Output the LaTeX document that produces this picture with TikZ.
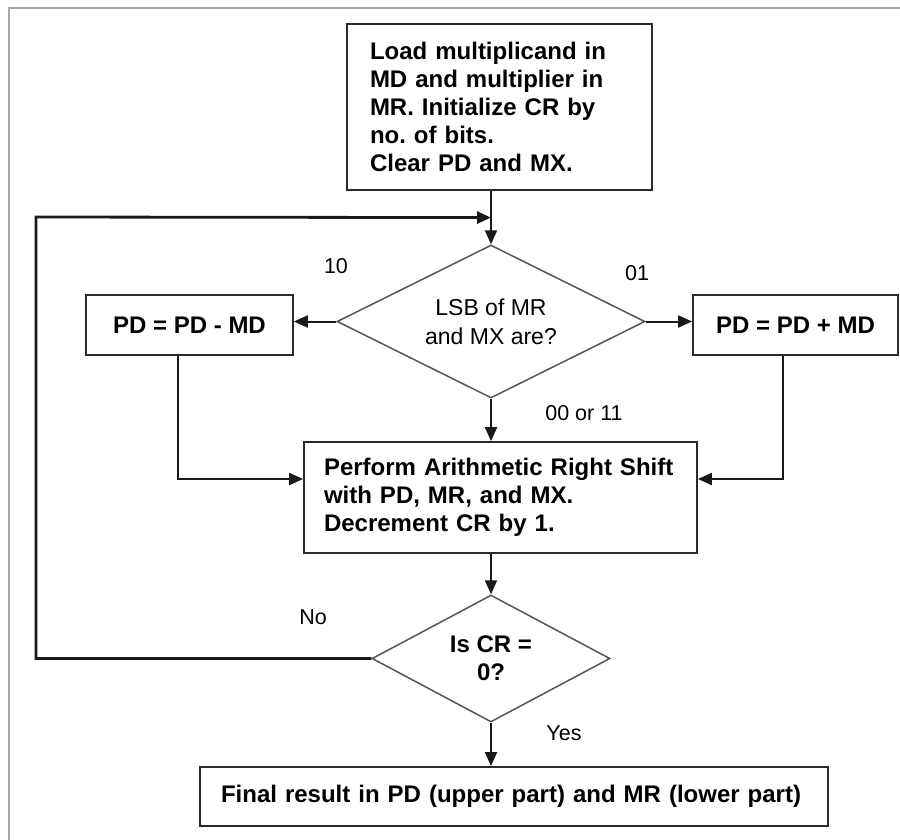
\documentclass[tikz,border=0pt]{standalone}
\usepackage{fontspec}
\setmainfont{Liberation Sans}
\usetikzlibrary{arrows.meta,calc,positioning,shapes.geometric}
\definecolor{FlowInk}{HTML}{2A2A2A}
\definecolor{FlowEdge}{HTML}{555555}
\definecolor{FrameGray}{HTML}{A8A8A8}
\frenchspacing

\begin{document}
\begin{tikzpicture}[x=1pt,y=-1pt,
    font=\fontsize{24}{28}\selectfont\bfseries,
    stepbox/.style={draw=FlowInk, line width=1.8pt, fill=white, inner sep=0pt},
    decision/.style={diamond, aspect=2, draw=FlowEdge, line width=1.5pt, inner sep=0pt, align=center},
    flow/.style={draw=black!90, line width=2pt, -{Triangle[length=14pt,width=12pt]}},
    branch/.style={font=\fontsize{21.5}{26}\selectfont}]
  \useasboundingbox (0,0) rectangle (900,839);
  % outer frame
  \draw[FrameGray, line width=2pt] (9,845) -- (9,8) -- (905,8);

  % steps and decisions
  \node[stepbox, minimum width=305pt, minimum height=166pt, text width=259pt, align=left] (init) at (499.5,107)
    {Load multiplicand in\\MD and multiplier in\\MR. Initialize CR by\\no. of bits.\\Clear PD and MX.};
  \node[decision, minimum width=308pt, minimum height=153pt, font=\fontsize{23}{29}\selectfont] (lsb) at (491,321.5)
    {LSB of MR\\and MX are?};
  \node[stepbox, minimum width=207pt, minimum height=60pt] (sub) at (189.5,325) {PD = PD - MD};
  \node[stepbox, minimum width=205pt, minimum height=60pt] (add) at (795.5,325) {PD = PD + MD};
  \node[stepbox, minimum width=393pt, minimum height=111pt, text width=353pt, align=left] (shift) at (500.5,497.5)
    {Perform Arithmetic Right Shift\\with PD, MR, and MX.\\Decrement CR by 1.};
  \node[decision, minimum width=238pt, minimum height=127pt] (done) at (491,658.5) {Is CR =\\0?};
  \node[stepbox, minimum width=628pt, minimum height=59pt, text width=586pt, align=left] (result) at (514,796.5)
    {Final result in PD (upper part) and MR (lower part)};

  % branch labels
  \node[branch] (l10) at (336,266) {10};
  \node[branch] (l01) at (637,273) {01};
  \node[branch] (l0011) at (584,413) {00 or 11};
  \node[branch] (lno) at (313,617) {No};
  \node[branch] (lyes) at (564,733) {Yes};

  % connectors
  \coordinate (merge) at ($(init.south -| lsb.north)!0.5!(lsb.north)$);
  \coordinate (back) at (36,217);
  \draw[flow] (init.south -| lsb.north) -- (lsb.north);
  \draw[flow] (lsb.west) -- (lsb.west -| sub.east);
  \draw[flow] (lsb.east) -- (lsb.east -| add.west);
  \draw[flow] (lsb.south) -- (lsb.south |- shift.north);
  \draw[flow] ([xshift=-12pt]sub.south) |- ([yshift=18.5pt]shift.west);
  \draw[flow] ([xshift=-13pt]add.south) |- ([yshift=18.5pt]shift.east);
  \draw[flow] (shift.south -| done.north) -- (done.north);
  \draw[flow] (done.south) -- (done.south |- result.north);
  \draw[flow, line width=2.8pt] (done.west) -| (back) -- (merge);
\end{tikzpicture}
\end{document}
